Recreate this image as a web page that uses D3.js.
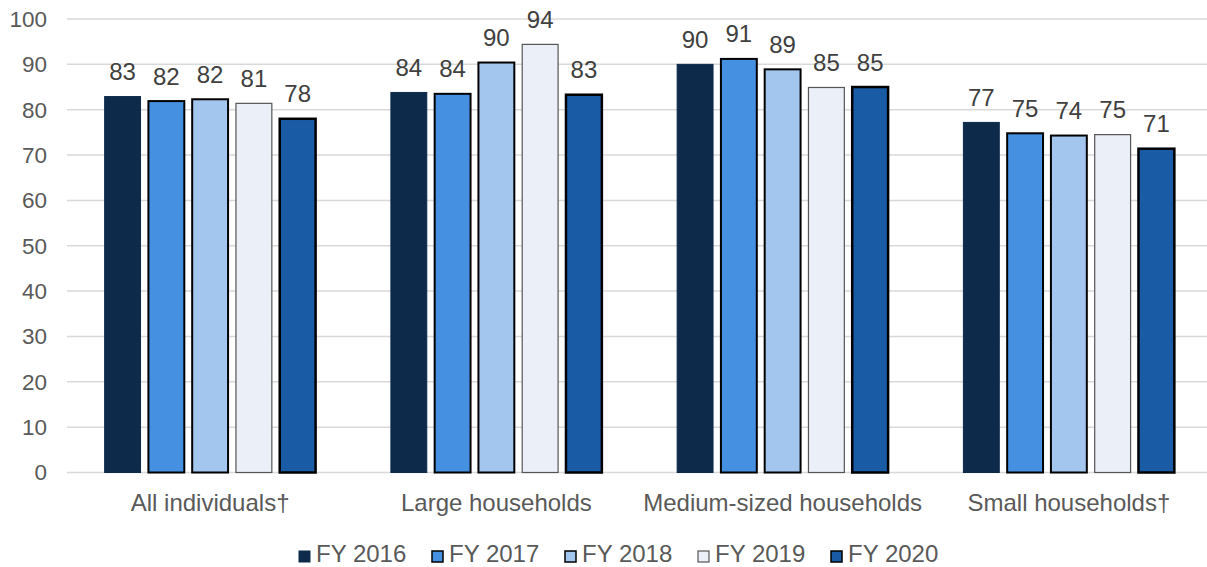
<!DOCTYPE html>
<html>
<head>
<meta charset="utf-8">
<script src="https://cdn.jsdelivr.net/npm/d3@7"></script>
<style>
  body { margin: 0; background: #fff; }
  text { font-family: "Liberation Sans", Arial, sans-serif; }
</style>
</head>
<body>
<div id="chart"></div>
<script>
const categories = ["All individuals\u2020", "Large households", "Medium-sized households", "Small households\u2020"];
const seriesNames = ["FY 2016", "FY 2017", "FY 2018", "FY 2019", "FY 2020"];
// values per category, in series order
const allIndividuals = [82.9, 81.9, 82.3, 81.4, 78.0];
const largeHouseholds = [83.8, 83.5, 90.4, 94.4, 83.3];
const mediumHouseholds = [90.0, 91.2, 88.9, 84.9, 85.0];
const smallHouseholds = [77.2, 74.8, 74.3, 74.5, 71.4];
const yTicks = [0, 10, 20, 30, 40, 50, 60, 70, 80, 90, 100];

const fills = ["#0d2a4a", "#4590e0", "#a3c6ef", "#eaeff8", "#1a5ba6"];
const strokes = ["#0d2a4a", "#000", "#000", "#555", "#000"];
const strokeW = [1, 2, 2, 1.2, 2.5];

const rows = [allIndividuals, largeHouseholds, mediumHouseholds, smallHouseholds];

const W = 1207, H = 567;
const margin = {top: 19, right: 0, bottom: 94.5, left: 67};

const svg = d3.select("#chart").append("svg")
    .attr("width", W).attr("height", H);

const y = d3.scaleLinear().domain([0, 100]).range([H - margin.bottom, margin.top]);
const x0 = d3.scaleBand().domain(categories).range([margin.left, 1212])
    .paddingInner(0.263).paddingOuter(0.1315);
const x1 = d3.scaleBand().domain(seriesNames).range([0, x0.bandwidth()])
    .paddingInner(0.18).paddingOuter(0);

// gridlines
svg.append("g").selectAll("line").data(yTicks).join("line")
    .attr("x1", margin.left).attr("x2", W)
    .attr("y1", d => y(d)).attr("y2", d => y(d))
    .attr("stroke", "#d9d9d9").attr("stroke-width", 1.5);

// y tick labels
svg.append("g").selectAll("text").data(yTicks).join("text")
    .attr("x", 47).attr("y", d => y(d))
    .attr("dy", "0.35em")
    .attr("text-anchor", "end")
    .attr("font-size", 22.5)
    .attr("fill", "#595959")
    .text(d => d);

const groups = svg.append("g").selectAll("g").data(categories).join("g")
    .attr("transform", d => `translate(${x0(d)},0)`);

groups.selectAll("rect")
    .data((d, i) => seriesNames.map((s, j) => ({s, j, v: rows[i][j]})))
    .join("rect")
    .attr("x", d => x1(d.s))
    .attr("y", d => y(d.v))
    .attr("width", x1.bandwidth())
    .attr("height", d => y(0) - y(d.v))
    .attr("fill", d => fills[d.j])
    .attr("stroke", d => strokes[d.j])
    .attr("stroke-width", d => strokeW[d.j]);

groups.selectAll("text.val")
    .data((d, i) => seriesNames.map((s, j) => ({s, j, v: rows[i][j]})))
    .join("text")
    .attr("class", "val")
    .attr("x", d => x1(d.s) + x1.bandwidth() / 2)
    .attr("y", d => y(d.v) - 16.5)
    .attr("text-anchor", "middle")
    .attr("font-size", 24)
    .attr("fill", "#404040")
    .text(d => Math.round(d.v));

// category labels
svg.append("g").selectAll("text").data(categories).join("text")
    .attr("x", d => x0(d) + x0.bandwidth() / 2)
    .attr("y", 511)
    .attr("text-anchor", "middle")
    .attr("font-size", 24)
    .attr("fill", "#595959")
    .text(d => d);

// legend
const legendX = d3.scalePoint().domain(seriesNames).range([299, 831]);
const leg = svg.append("g").selectAll("g").data(seriesNames).join("g")
    .attr("transform", d => `translate(${legendX(d)},556.5)`);
leg.append("rect")
    .attr("x", 0).attr("y", -5.5)
    .attr("width", 11).attr("height", 11)
    .attr("fill", (d, i) => fills[i])
    .attr("stroke", (d, i) => strokes[i])
    .attr("stroke-width", (d, i) => Math.min(strokeW[i], 1.5));
leg.append("text")
    .attr("x", 17).attr("y", 5.5)
    .attr("font-size", 24)
    .attr("fill", "#595959")
    .text(d => d);
</script>
</body>
</html>
